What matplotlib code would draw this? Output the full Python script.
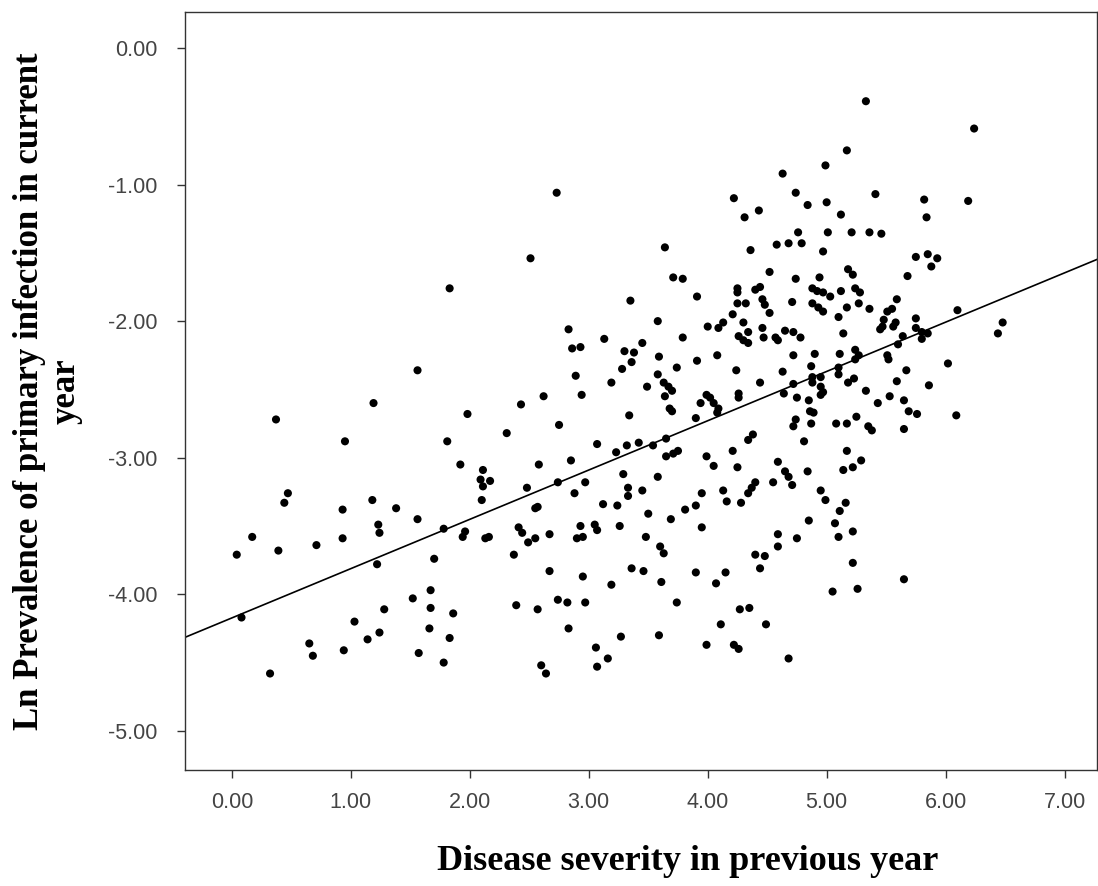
import numpy as np
import matplotlib
matplotlib.use("Agg")
import matplotlib.pyplot as plt

# disease severity in previous year (x) and ln prevalence of primary infection (y)
severity = [
    0.04, 0.08, 0.17, 0.32, 0.37, 0.39, 0.44, 0.47, 0.65, 0.68, 0.71, 0.93, 0.93, 0.95, 0.94,
    1.03, 1.14, 1.19, 1.18, 1.22, 1.23, 1.24, 1.24, 1.28, 1.38, 1.52, 1.56, 1.56, 1.57, 1.66,
    1.67, 1.67, 1.70, 1.78, 1.78, 1.81, 1.83, 1.83, 1.86, 1.92, 1.94, 1.96, 1.98,
    2.11, 2.09, 2.17, 2.11, 2.10, 2.13, 2.16, 2.43, 2.31, 2.51, 2.73, 2.62, 2.94, 2.83, 3.13,
    2.86, 2.93, 2.89, 3.19, 3.35, 3.58, 3.45, 3.30, 3.38, 3.36, 3.28, 3.64, 3.71, 3.79, 3.91,
    3.79, 3.59, 3.91, 4.08, 3.74, 3.58, 3.63, 3.67, 3.70, 3.49, 3.64, 3.68, 3.70, 4.00, 4.09,
    4.13, 4.21, 4.25, 4.25, 4.25, 4.32, 4.22, 4.31, 4.36, 4.30, 4.34, 4.26, 4.30, 4.34, 4.24,
    3.99, 4.02, 4.26, 4.26, 3.94, 4.05, 4.09, 4.08, 3.34, 3.90, 2.75, 3.65, 3.07, 3.32, 3.42,
    3.54, 3.23, 3.65, 3.71, 3.75, 4.34, 4.21, 2.58, 2.85, 3.99, 4.05, 4.25, 3.29, 3.58, 2.48,
    2.74, 2.97, 3.33, 3.45, 2.88, 3.33, 3.95, 4.13, 4.16, 4.28, 4.34, 2.55, 2.57, 3.12, 3.24,
    3.81, 3.90, 3.50, 3.69, 2.41, 2.44, 2.49, 2.55, 2.67, 2.93, 2.90, 2.95, 3.05, 3.07, 3.26,
    3.48, 3.60, 3.63, 3.95, 2.37, 2.67, 2.95, 3.19, 3.36, 3.46, 3.61, 3.90, 4.07, 4.15, 2.39,
    2.57, 2.74, 2.82, 2.97, 3.74, 2.83, 3.27, 3.59, 4.27, 4.35, 4.11, 3.99, 4.22, 4.26, 3.06,
    3.16, 3.07, 2.60, 2.64,
    5.33, 6.24, 5.17, 4.99, 4.63, 4.74, 4.84, 5.00, 5.41, 5.82, 6.19, 4.43, 5.84, 5.12, 4.76,
    5.01, 5.21, 5.36, 5.46, 4.58, 4.68, 4.79, 4.97, 5.75, 5.85, 5.93, 5.88, 4.52, 4.74, 4.94,
    5.18, 5.22, 5.68, 4.40, 4.44, 4.88, 4.92, 4.97, 5.03, 5.12, 5.24, 5.28, 4.46, 4.48, 4.71,
    4.88, 4.93, 4.97, 5.27, 5.17, 5.36, 5.59, 4.52, 5.51, 5.55, 5.10, 5.48, 5.47, 5.45, 5.58,
    5.56, 5.75, 6.10, 6.48, 6.44, 4.46, 4.47, 4.65, 4.72, 4.78, 4.57, 4.59, 5.14, 5.75, 5.80,
    5.85, 5.64, 5.80, 5.60, 4.72, 4.90, 5.11, 5.24, 5.27, 5.24, 5.51, 5.52, 6.02, 4.87, 5.10,
    5.10, 4.63, 5.67, 4.88, 4.95, 4.88, 4.44, 4.72, 5.18, 5.23, 5.59, 5.86, 4.95, 4.97, 4.95,
    4.64, 5.33, 4.75, 4.85, 5.43, 5.53, 5.65, 4.86, 4.89, 5.69, 5.76, 6.09, 4.74, 4.72, 4.87,
    5.08, 5.17, 5.25, 5.35, 5.38, 5.65, 4.38, 4.81, 5.17, 4.59, 5.29, 5.22, 5.14, 4.84, 4.65,
    4.68, 4.71, 4.55, 4.40, 4.37, 4.95, 4.99, 5.16, 5.11, 4.85, 5.07, 5.22, 4.59, 4.75, 5.10,
    4.59, 4.40, 4.48, 4.44, 5.22, 5.65, 5.05, 5.26, 4.49, 4.68,
]
ln_prevalence = [
    -3.71, -4.17, -3.58, -4.58, -2.72, -3.68, -3.33, -3.26, -4.36, -4.45, -3.64, -3.38, -3.59, -2.88, -4.41,
    -4.20, -4.33, -2.60, -3.31, -3.78, -3.49, -3.55, -4.28, -4.11, -3.37, -4.03, -2.36, -3.45, -4.43, -4.25,
    -3.97, -4.10, -3.74, -4.50, -3.52, -2.88, -1.76, -4.32, -4.14, -3.05, -3.58, -3.54, -2.68,
    -3.09, -3.16, -3.17, -3.21, -3.31, -3.59, -3.58, -2.61, -2.82, -1.54, -1.06, -2.55, -2.54, -2.06, -2.13,
    -2.20, -2.19, -2.40, -2.45, -1.85, -2.00, -2.16, -2.22, -2.23, -2.30, -2.35, -1.46, -1.68, -1.69, -1.82,
    -2.12, -2.26, -2.29, -2.25, -2.34, -2.39, -2.45, -2.48, -2.51, -2.48, -2.55, -2.64, -2.66, -2.04, -2.05,
    -2.01, -1.95, -1.76, -1.79, -1.87, -1.87, -1.10, -1.24, -1.48, -2.01, -2.08, -2.11, -2.14, -2.16, -2.36,
    -2.54, -2.56, -2.53, -2.56, -2.60, -2.60, -2.64, -2.67, -2.69, -2.71, -2.76, -2.86, -2.90, -2.91, -2.89,
    -2.91, -2.96, -2.99, -2.97, -2.95, -2.87, -2.95, -3.05, -3.02, -2.99, -3.06, -3.07, -3.12, -3.14, -3.22,
    -3.18, -3.18, -3.22, -3.24, -3.26, -3.28, -3.26, -3.24, -3.32, -3.33, -3.26, -3.37, -3.36, -3.34, -3.35,
    -3.38, -3.35, -3.41, -3.45, -3.51, -3.55, -3.62, -3.59, -3.56, -3.50, -3.59, -3.58, -3.49, -3.53, -3.50,
    -3.58, -3.65, -3.70, -3.51, -3.71, -3.83, -3.87, -3.93, -3.81, -3.83, -3.91, -3.84, -3.92, -3.84, -4.08,
    -4.11, -4.04, -4.06, -4.06, -4.06, -4.25, -4.31, -4.30, -4.11, -4.10, -4.22, -4.37, -4.37, -4.40, -4.39,
    -4.47, -4.53, -4.52, -4.58,
    -0.39, -0.59, -0.75, -0.86, -0.92, -1.06, -1.15, -1.13, -1.07, -1.11, -1.12, -1.19, -1.24, -1.22, -1.35,
    -1.35, -1.35, -1.35, -1.36, -1.44, -1.43, -1.43, -1.49, -1.53, -1.51, -1.54, -1.60, -1.64, -1.69, -1.68,
    -1.62, -1.66, -1.67, -1.77, -1.75, -1.76, -1.78, -1.79, -1.82, -1.78, -1.76, -1.79, -1.84, -1.88, -1.86,
    -1.87, -1.90, -1.93, -1.87, -1.90, -1.91, -1.84, -1.94, -1.93, -1.91, -1.97, -1.99, -2.04, -2.06, -2.01,
    -2.04, -1.98, -1.92, -2.01, -2.09, -2.05, -2.12, -2.07, -2.08, -2.12, -2.12, -2.14, -2.09, -2.05, -2.08,
    -2.09, -2.11, -2.13, -2.17, -2.25, -2.24, -2.24, -2.21, -2.25, -2.28, -2.25, -2.28, -2.31, -2.33, -2.34,
    -2.39, -2.37, -2.36, -2.41, -2.41, -2.45, -2.45, -2.46, -2.45, -2.42, -2.44, -2.47, -2.48, -2.52, -2.54,
    -2.53, -2.51, -2.56, -2.58, -2.60, -2.55, -2.58, -2.66, -2.67, -2.66, -2.68, -2.69, -2.72, -2.77, -2.75,
    -2.75, -2.75, -2.70, -2.77, -2.80, -2.79, -2.83, -2.88, -2.95, -3.03, -3.02, -3.07, -3.09, -3.10, -3.10,
    -3.14, -3.20, -3.18, -3.18, -3.22, -3.24, -3.31, -3.33, -3.39, -3.46, -3.48, -3.54, -3.56, -3.59, -3.58,
    -3.65, -3.71, -3.72, -3.81, -3.77, -3.89, -3.98, -3.96, -4.22, -4.47,
]

x_ticks = [0, 1, 2, 3, 4, 5, 6, 7]
y_ticks = [0, -1, -2, -3, -4, -5]

x = np.array(severity)
y = np.array(ln_prevalence)

fig = plt.figure(figsize=(10.98, 8.86), dpi=100)
ax = fig.add_axes([0.1685, 0.131, 0.831, 0.8555])

ax.scatter(x, y, s=34, color="black", edgecolors="none", zorder=3)

# linear fit line across the whole x range
slope, intercept = np.polyfit(x, y, 1)
xlim = (-0.395, 7.277)
xs = np.array(xlim)
ax.plot(xs, slope * xs + intercept, color="black", lw=1.2, zorder=2)

ax.set_xlim(*xlim)
ax.set_ylim(-5.286, 0.2635)
ax.set_xticks(x_ticks)
ax.set_xticklabels([f"{v:.2f}" for v in x_ticks])
ax.set_yticks(y_ticks)
ax.set_yticklabels([f"{v:.2f}" for v in y_ticks])

for s in ax.spines.values():
    s.set_linewidth(1.0)
    s.set_color("#333333")
ax.tick_params(direction="out", length=6, width=1.0, color="#333333",
               labelsize=15.5, labelcolor="#444444")
ax.tick_params(axis="x", pad=10)
ax.tick_params(axis="y", pad=14)
for lab in ax.get_xticklabels() + ax.get_yticklabels():
    lab.set_family("Liberation Sans")

ax.set_xlabel("Disease severity in previous year", family="Liberation Serif",
              fontweight="bold", fontsize=26, va="center")
ax.xaxis.set_label_coords(0.5504, -0.121)
ax.set_ylabel("Ln Prevalence of primary infection in current\nyear",
              family="Liberation Serif", fontweight="bold", fontsize=25,
              va="center", linespacing=1.15)
ax.yaxis.set_label_coords(-0.150, 0.5)

fig.savefig("out.png", dpi=100)
